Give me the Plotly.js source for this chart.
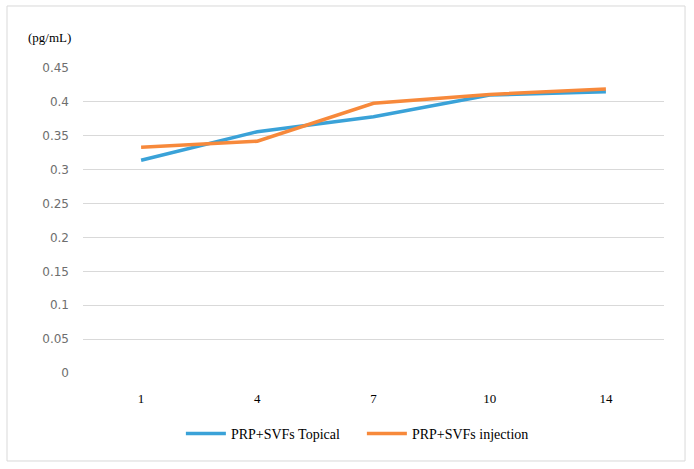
<!DOCTYPE html>
<html>
<head>
<meta charset="utf-8">
<script src="https://cdn.plot.ly/plotly-3.0.1.min.js"></script>
<style>
html,body{margin:0;padding:0;background:#fff;}
#chart{width:694px;height:469px;}
</style>
</head>
<body>
<div id="chart"></div>
<script>
const days = ['1', '4', '7', '10', '14'];
const topical = [0.314, 0.356, 0.378, 0.410, 0.415];
const injection = [0.333, 0.342, 0.398, 0.411, 0.419];
const seriesNames = ['PRP+SVFs Topical', 'PRP+SVFs injection'];
const yTicks = [0, 0.05, 0.1, 0.15, 0.2, 0.25, 0.3, 0.35, 0.4, 0.45];
const yTickText = ['0', '0.05', '0.1', '0.15', '0.2', '0.25', '0.3', '0.35', '0.4', '0.45'];

const serif = 'Liberation Serif';

const traces = [
  {x: days, y: topical, name: seriesNames[0], type: 'scatter', mode: 'lines',
   line: {color: '#3aa2d8', width: 3.5}},
  {x: days, y: injection, name: seriesNames[1], type: 'scatter', mode: 'lines',
   line: {color: '#f7893b', width: 3.5}}
];

const layout = {
  width: 694, height: 469,
  margin: {l: 83, r: 30, t: 68, b: 96},
  paper_bgcolor: '#fff', plot_bgcolor: '#fff',
  showlegend: true,
  legend: {orientation: 'h', x: 0.48, xanchor: 'center', y: -0.2, yanchor: 'middle',
           font: {family: serif, size: 14, color: '#000'}, itemwidth: 40,
           entrywidth: 126, entrywidthmode: 'pixels'},
  xaxis: {type: 'category', range: [-0.5, 4.5], showgrid: false, zeroline: false, showline: false,
          ticks: '', tickfont: {family: serif, size: 13, color: '#000'}, ticklabelstandoff: 16},
  yaxis: {range: [0, 0.45], tickvals: yTicks, ticktext: yTickText, showgrid: true,
          gridcolor: '#d9d9d9', gridwidth: 1, zeroline: false, showline: false, ticks: '',
          tickfont: {family: 'DejaVu Sans', size: 12, color: '#6e6e6e'},
          ticklabelstandoff: 13},
  annotations: [{text: '(pg/mL)', xref: 'paper', yref: 'paper', x: -0.0585, y: 1.1,
                 xanchor: 'center', yanchor: 'middle', showarrow: false,
                 font: {family: serif, size: 13, color: '#000'}}],
  shapes: [{type: 'rect', xref: 'paper', yref: 'paper',
            x0: -0.1308, x1: 1.0362, y0: -0.2885, y1: 1.2033,
            line: {color: '#d9d9d9', width: 1}, fillcolor: 'rgba(0,0,0,0)', layer: 'below'}]
};

Plotly.newPlot('chart', traces, layout, {displayModeBar: false, staticPlot: true});
</script>
</body>
</html>
